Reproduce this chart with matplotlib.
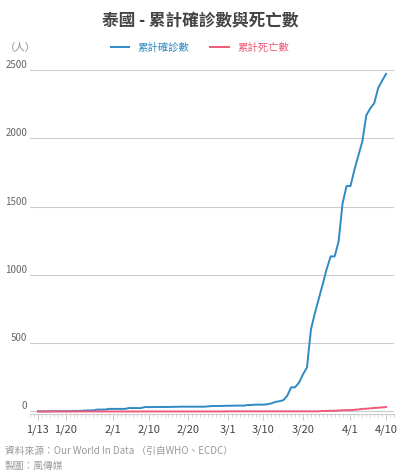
import matplotlib
matplotlib.use('Agg')
import matplotlib.pyplot as plt
import matplotlib.dates as mdates
import pandas as pd

plt.rcParams['font.family'] = ['Noto Sans CJK TC', 'DejaVu Sans']

dates = pd.date_range('2020-01-13', '2020-04-10')

cases_jan = [1, 1, 1, 1, 2, 2, 2, 2, 2, 4, 4, 5, 7, 8, 8, 14, 14, 14, 19]
cases_feb = [19, 19, 19, 19, 25, 25, 25, 25, 32, 32, 32, 33, 33, 33, 33, 34, 34, 35, 35, 35,
             35, 35, 35, 35, 37, 40, 40, 40, 41]
cases_mar = [42, 42, 43, 43, 43, 47, 48, 50, 50, 50, 53, 59, 70, 75, 82, 114, 177, 177, 212, 272,
             322, 599, 721, 827, 934, 1045, 1136, 1136, 1245, 1524, 1651]
cases_apr = [1651, 1771, 1875, 1978, 2169, 2220, 2258, 2369, 2423, 2473]
cases = cases_jan + cases_feb + cases_mar + cases_apr

deaths_janfeb = [0] * 48
deaths_mar = [1] * 15 + [1, 1, 1, 1, 1, 1, 1, 1, 1, 4, 4, 5, 5, 7, 9, 10]
deaths_apr = [10, 12, 15, 19, 20, 23, 26, 27, 30, 32]
deaths = deaths_janfeb + deaths_mar + deaths_apr

tick_dates = ['2020-01-13', '2020-01-20', '2020-02-01', '2020-02-10', '2020-02-20',
              '2020-03-01', '2020-03-10', '2020-03-20', '2020-04-01', '2020-04-10']
tick_labels = ['1/13', '1/20', '2/1', '2/10', '2/20', '3/1', '3/10', '3/20', '4/1', '4/10']

fig = plt.figure(figsize=(4, 4.75), dpi=100)
ax = fig.add_axes([0.075, 0.128, 0.91, 0.73])

ax.plot(dates, cases, color='#2f8ac4', lw=1.4, label='累計確診數')
ax.plot(dates, deaths, color='#ef5a78', lw=1.4, label='累計死亡數')

ax.set_ylim(-20, 2520)
ax.set_yticks([0, 500, 1000, 1500, 2000, 2500])
ax.yaxis.grid(True, color='#cccccc', lw=0.8)
ax.set_xlim(pd.Timestamp('2020-01-11'), pd.Timestamp('2020-04-12'))
ax.set_xticks(pd.to_datetime(tick_dates))
ax.set_xticklabels(tick_labels)
ax.xaxis.set_minor_locator(mdates.DayLocator())
for s in ['top', 'right', 'left']:
    ax.spines[s].set_visible(False)
ax.spines['bottom'].set_color('#cccccc')
ax.tick_params(axis='y', length=0, labelsize=7, colors='#666666', pad=2)
ax.tick_params(axis='x', which='major', length=4, color='#cccccc', labelsize=8, colors='#444444')
ax.tick_params(axis='x', which='minor', length=2, color='#cccccc')
for lbl in ax.get_yticklabels():
    lbl.set_verticalalignment('bottom')

fig.text(0.5, 0.955, '泰國 - 累計確診數與死亡數', ha='center', va='center',
         fontsize=12, fontweight='bold', color='#444444')
leg = fig.legend(loc='center', bbox_to_anchor=(0.5, 0.9), ncol=2, frameon=False,
                 fontsize=7.5, handlelength=1.8, columnspacing=2)
for t, c in zip(leg.get_texts(), ['#2f8ac4', '#ef5a78']):
    t.set_color(c)
fig.text(0.012, 0.9, '（人）', fontsize=7.5, color='#888888', va='center')
fig.text(0.012, 0.05, '資料來源：Our World In Data （引自WHO、ECDC）', fontsize=7, color='#999999', va='center')
fig.text(0.012, 0.018, '製圖：風傳媒', fontsize=7, color='#999999', va='center')

fig.savefig('out.png', dpi=100)
